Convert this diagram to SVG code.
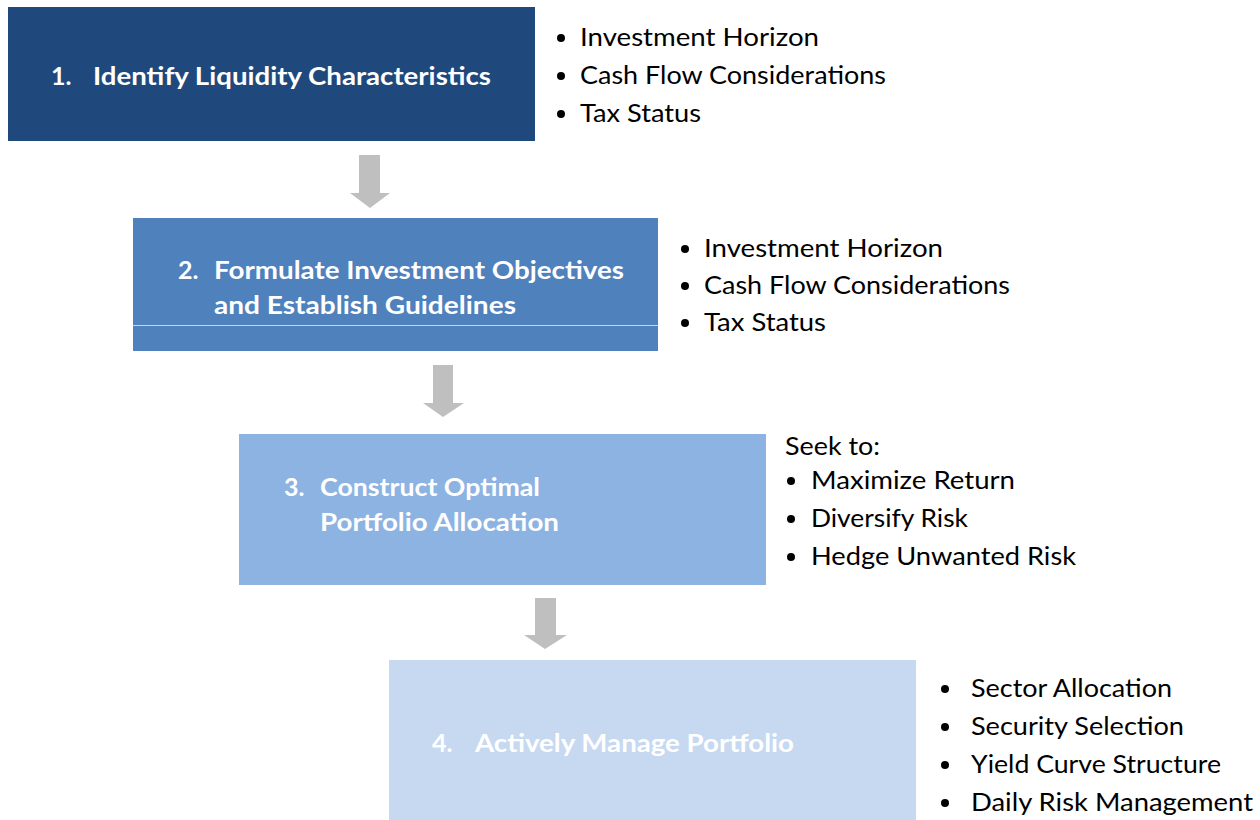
<svg xmlns="http://www.w3.org/2000/svg" width="1260" height="820" viewBox="0 0 1260 820">
<defs>
<style>
.title{font-family:Lato,"Open Sans","Liberation Sans",sans-serif;font-weight:bold;font-size:25px;fill:#FFFFFF}
.item{font-family:Lato,"Open Sans","Liberation Sans",sans-serif;font-size:25px;fill:#000000}
.arrow{fill:#BFBFBF}
.dot{fill:#000000}
</style>
</defs>
<rect width="1260" height="820" fill="#FFFFFF"/>
<g id="connectors">
<polygon class="arrow" points="359,155 380,155 380,193 390,193 370,208 350,193 359,193"/>
<polygon class="arrow" points="433,365 453,365 453,403 464,403 443,417 423,403 433,403"/>
<polygon class="arrow" points="535,598 556,598 556,635 567,635 545,649 524,635 535,635"/>
</g>
<g id="node1">
<rect x="8" y="7" width="527" height="134" fill="#1F497D"/>
<text class="title" x="51" y="85">1.</text>
<text class="title" x="93" y="85" textLength="398" lengthAdjust="spacingAndGlyphs">Identify Liquidity Characteristics</text>
</g>
<g id="node1-notes">
<circle class="dot" cx="561" cy="38" r="4"/><text class="item" x="580" y="46" textLength="239" lengthAdjust="spacingAndGlyphs">Investment Horizon</text>
<circle class="dot" cx="561" cy="76" r="4"/><text class="item" x="580" y="84" textLength="306" lengthAdjust="spacingAndGlyphs">Cash Flow Considerations</text>
<circle class="dot" cx="561" cy="114" r="4"/><text class="item" x="580" y="122" textLength="121" lengthAdjust="spacingAndGlyphs">Tax Status</text>
</g>
<g id="node2">
<rect x="133" y="218" width="525" height="133" fill="#4F81BD"/>
<line x1="133" y1="325.5" x2="658" y2="325.5" stroke="#C5D5EA" stroke-width="1"/>
<text class="title" x="178" y="279">2.</text>
<text class="title" x="214" y="279" textLength="410" lengthAdjust="spacingAndGlyphs">Formulate Investment Objectives</text>
<text class="title" x="214" y="314" textLength="302" lengthAdjust="spacingAndGlyphs">and Establish Guidelines</text>
</g>
<g id="node2-notes">
<circle class="dot" cx="685" cy="249" r="4"/><text class="item" x="704" y="257" textLength="239" lengthAdjust="spacingAndGlyphs">Investment Horizon</text>
<circle class="dot" cx="685" cy="286" r="4"/><text class="item" x="704" y="294" textLength="306" lengthAdjust="spacingAndGlyphs">Cash Flow Considerations</text>
<circle class="dot" cx="685" cy="323" r="4"/><text class="item" x="704" y="331" textLength="122" lengthAdjust="spacingAndGlyphs">Tax Status</text>
</g>
<g id="node3">
<rect x="239" y="434" width="527" height="151" fill="#8DB3E2"/>
<text class="title" x="284" y="496">3.</text>
<text class="title" x="320" y="496" textLength="220" lengthAdjust="spacingAndGlyphs">Construct Optimal</text>
<text class="title" x="320" y="531" textLength="239" lengthAdjust="spacingAndGlyphs">Portfolio Allocation</text>
</g>
<g id="node3-notes">
<text class="item" x="785" y="455" textLength="95" lengthAdjust="spacingAndGlyphs">Seek to:</text>
<circle class="dot" cx="791" cy="481" r="4"/><text class="item" x="811" y="489" textLength="204" lengthAdjust="spacingAndGlyphs">Maximize Return</text>
<circle class="dot" cx="791" cy="519" r="4"/><text class="item" x="811" y="527" textLength="157" lengthAdjust="spacingAndGlyphs">Diversify Risk</text>
<circle class="dot" cx="791" cy="557" r="4"/><text class="item" x="811" y="565" textLength="265" lengthAdjust="spacingAndGlyphs">Hedge Unwanted Risk</text>
</g>
<g id="node4">
<rect x="389" y="660" width="527" height="170" fill="#C6D9F1"/>
<text class="title" x="432" y="752">4.</text>
<text class="title" x="475" y="752" textLength="319" lengthAdjust="spacingAndGlyphs">Actively Manage Portfolio</text>
</g>
<g id="node4-notes">
<circle class="dot" cx="945" cy="689" r="4"/><text class="item" x="971" y="697" textLength="201" lengthAdjust="spacingAndGlyphs">Sector Allocation</text>
<circle class="dot" cx="945" cy="727" r="4"/><text class="item" x="971" y="735" textLength="213" lengthAdjust="spacingAndGlyphs">Security Selection</text>
<circle class="dot" cx="945" cy="765" r="4"/><text class="item" x="971" y="773" textLength="250" lengthAdjust="spacingAndGlyphs">Yield Curve Structure</text>
<circle class="dot" cx="945" cy="803" r="4"/><text class="item" x="971" y="811" textLength="282" lengthAdjust="spacingAndGlyphs">Daily Risk Management</text>
</g>
</svg>
